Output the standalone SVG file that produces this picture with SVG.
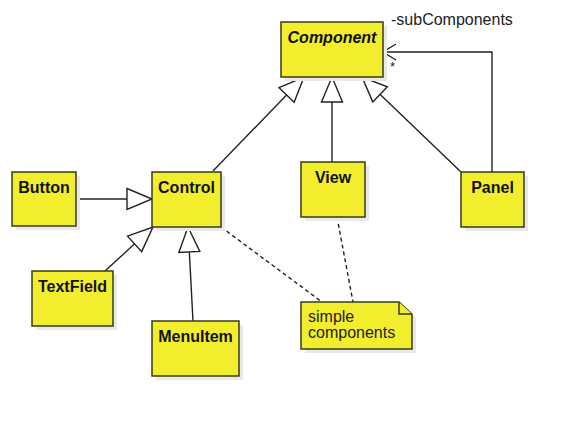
<svg xmlns="http://www.w3.org/2000/svg" width="573" height="426" viewBox="0 0 573 426">
<style>
.box{fill:#f2ee2e;stroke:#3a3a1a;stroke-width:1.5}
.shadow{fill:#e9e9e9}
.lbl{font-family:"Liberation Sans",Arial,sans-serif;font-size:16px;font-weight:bold;fill:#111;text-anchor:middle}
.txt{font-family:"Liberation Sans",Arial,sans-serif;font-size:16px;fill:#222}
.ln{fill:none;stroke:#222;stroke-width:1.4}
.dash{fill:none;stroke:#222;stroke-width:1.4;stroke-dasharray:4,3}
</style>
<defs>
<marker id="gen" markerUnits="userSpaceOnUse" markerWidth="27" markerHeight="23" refX="25" refY="10.5" orient="auto" overflow="visible">
<path d="M0,0 L25,10.5 L0,21 Z" fill="#fff" stroke="#222" stroke-width="1.4"/>
</marker>
<marker id="open" markerUnits="userSpaceOnUse" markerWidth="15" markerHeight="18" refX="13" refY="8" orient="auto" overflow="visible">
<path d="M0,0 L13,8 L0,16" fill="none" stroke="#222" stroke-width="1.4"/>
</marker>
</defs>
<rect width="573" height="426" fill="#fff"/>
<g id="connectors">
<line class="ln" x1="213" y1="171" x2="304" y2="77" marker-end="url(#gen)"/>
<line class="ln" x1="332" y1="162" x2="332" y2="77" marker-end="url(#gen)"/>
<line class="ln" x1="461" y1="172" x2="362" y2="77" marker-end="url(#gen)"/>
<polyline class="ln" points="492,172 492,52 383,52" marker-end="url(#open)"/>
<line class="ln" x1="76" y1="199" x2="152" y2="199" marker-end="url(#gen)"/>
<line class="ln" x1="105" y1="271" x2="153" y2="227" marker-end="url(#gen)"/>
<line class="ln" x1="193" y1="321" x2="188" y2="227" marker-end="url(#gen)"/>
<line class="dash" x1="221" y1="227" x2="322" y2="302"/>
<line class="dash" x1="337" y1="217" x2="353" y2="302"/>
<text class="txt" x="391" y="25">-subComponents</text>
<text class="txt" x="390" y="71" style="font-size:13px">*</text>
</g>
<g id="Component">
<rect class="shadow" x="285" y="26" width="102" height="55"/>
<rect class="box" x="281" y="22" width="102" height="55"/>
<text class="lbl" x="332" y="43" font-style="italic">Component</text>
</g>
<g id="Button">
<rect class="shadow" x="16" y="176" width="64" height="54"/>
<rect class="box" x="12" y="172" width="64" height="54"/>
<text class="lbl" x="44" y="193">Button</text>
</g>
<g id="Control">
<rect class="shadow" x="156" y="176" width="69" height="55"/>
<rect class="box" x="152" y="172" width="69" height="55"/>
<text class="lbl" x="186.5" y="193">Control</text>
</g>
<g id="View">
<rect class="shadow" x="305" y="166" width="64" height="55"/>
<rect class="box" x="301" y="162" width="64" height="55"/>
<text class="lbl" x="333" y="183">View</text>
</g>
<g id="Panel">
<rect class="shadow" x="465" y="176" width="63" height="55"/>
<rect class="box" x="461" y="172" width="63" height="55"/>
<text class="lbl" x="492.5" y="193">Panel</text>
</g>
<g id="TextField">
<rect class="shadow" x="36" y="275" width="81" height="55"/>
<rect class="box" x="32" y="271" width="81" height="55"/>
<text class="lbl" x="72.5" y="292">TextField</text>
</g>
<g id="MenuItem">
<rect class="shadow" x="156" y="325" width="87" height="55"/>
<rect class="box" x="152" y="321" width="87" height="55"/>
<text class="lbl" x="195.5" y="342">MenuItem</text>
</g>
<g id="note">
<path class="shadow" d="M305,306 L403,306 L416,318 L416,353 L305,353 Z"/>
<path class="box" d="M301,302 L399,302 L412,314 L412,349 L301,349 Z"/>
<path class="box" d="M399,302 L399,314 L412,314" fill="none"/>
<text class="txt" x="308" y="322">simple</text>
<text class="txt" x="308" y="338">components</text>
</g>
</svg>
